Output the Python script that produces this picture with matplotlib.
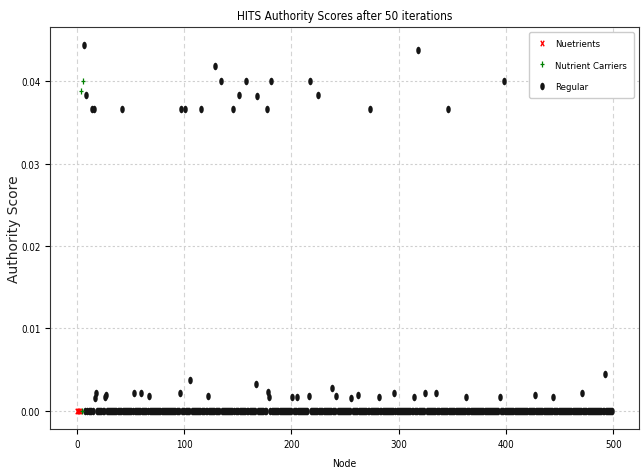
import matplotlib
matplotlib.use("Agg")
import matplotlib.pyplot as plt
import numpy as np
from matplotlib.path import Path
from matplotlib.transforms import Affine2D

plt.rcParams['font.family'] = ['DejaVu Sans']
plt.rcParams['font.stretch'] = 'condensed'

# nodes of each group and their authority scores
nut_nodes = [0, 1, 2, 3]
nut_scores = [0.0, 0.0, 0.0, 0.0]

carrier_nodes = [4, 5, 6]
carrier_scores = [0.0389, 0.0, 0.0400]

# regular nodes run from 7 to 499, score 0 unless listed below
reg_first, reg_last = 7, 499
high_nodes = [7, 9, 14, 16, 42, 97, 101, 116, 129, 134, 146, 151, 158, 168,
              177, 181, 217, 225, 273, 318, 346, 398]
high_scores = [0.0444, 0.0383, 0.0367, 0.0367, 0.0367, 0.0367, 0.0367, 0.0367,
               0.0419, 0.0400, 0.0367, 0.0383, 0.0400, 0.0382, 0.0367, 0.0400,
               0.0401, 0.0383, 0.0367, 0.0438, 0.0367, 0.0401]
low_nodes = [17, 18, 26, 27, 53, 60, 67, 96, 106, 122, 167, 178, 179, 201, 205,
             216, 238, 242, 256, 262, 282, 296, 314, 325, 335, 363, 394, 427,
             444, 471, 492]
low_scores = [0.0016, 0.0022, 0.0017, 0.0019, 0.0022, 0.0022, 0.0018, 0.0022,
              0.0037, 0.0018, 0.0033, 0.0023, 0.0017, 0.0017, 0.0017, 0.0018,
              0.0028, 0.0018, 0.0015, 0.0019, 0.0017, 0.0022, 0.0017, 0.0022,
              0.0022, 0.0017, 0.0017, 0.0019, 0.0017, 0.0022, 0.0045]

reg_nodes = np.arange(reg_first, reg_last + 1)
reg_scores = np.zeros(len(reg_nodes))
for n, s in zip(high_nodes + low_nodes, high_scores + low_scores):
    reg_scores[n - reg_first] = s

# squeezed marker shapes
squeeze = Affine2D().scale(0.6, 1.0)
ell = Path.unit_circle().transformed(squeeze)
xmark = Path([(-1, -1), (1, 1), (-1, 1), (1, -1)],
             [Path.MOVETO, Path.LINETO, Path.MOVETO, Path.LINETO]).transformed(squeeze)
pmark = Path([(0, -1), (0, 1), (-1, 0), (1, 0)],
             [Path.MOVETO, Path.LINETO, Path.MOVETO, Path.LINETO]).transformed(squeeze)

fig = plt.figure(figsize=(6.44, 4.77), dpi=100)
ax = fig.add_axes([0.0776, 0.0985, 0.9146, 0.8428])

ax.plot(nut_nodes, nut_scores, ls='none', marker=xmark, ms=4, mec='red',
        mfc='none', mew=1.0, label='Nuetrients', zorder=3)
ax.plot(carrier_nodes, carrier_scores, ls='none', marker=pmark, ms=4,
        mec='green', mfc='none', mew=0.9, label='Nutrient Carriers', zorder=3)
ax.plot(reg_nodes, reg_scores, ls='none', marker=ell, ms=5.4, mec='none',
        mfc='#151515', label='Regular', zorder=2)

ax.set_title('HITS Authority Scores after 50 iterations', fontsize=8.5, pad=6)
ax.set_xlabel('Node', fontsize=7.5, labelpad=7)
ax.set_ylabel('Authority Score', fontsize=10, labelpad=0, fontstretch='normal',
              color='#222222')
ax.tick_params(labelsize=7)
ax.xaxis.grid(True, ls=(0, (4, 3)), color='#d4d4d4', lw=0.8)
ax.yaxis.grid(True, ls=(0, (2, 2)), color='#cfcfcf', lw=0.8)
ax.set_axisbelow(True)
for sp in ax.spines.values():
    sp.set_color('#333333')

ax.legend(loc='upper right', fontsize=6.8, labelspacing=1.3, handlelength=1.0,
          handletextpad=0.9, borderpad=0.8, framealpha=1)

fig.savefig('out.png', dpi=100)
